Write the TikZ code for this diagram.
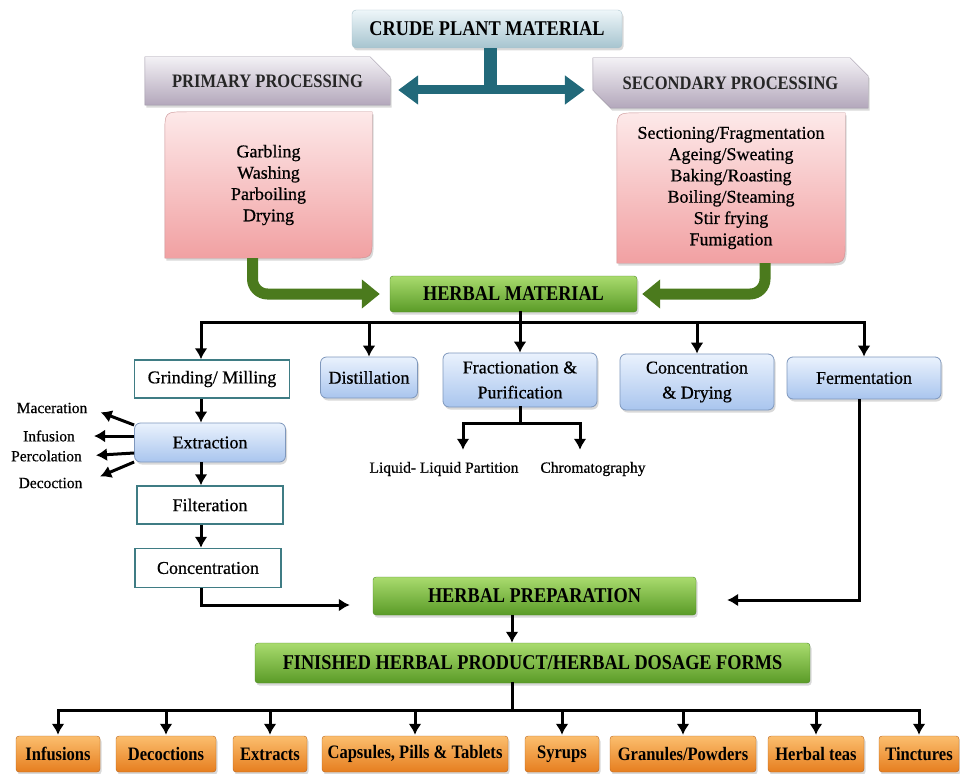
\documentclass[tikz,border=0pt]{standalone}
\usepackage{fontspec}
\setmainfont{Liberation Serif}
\newfontfamily\headfont[FakeStretch=0.87]{Liberation Serif}
\newfontfamily\bodyfont[FakeBold=0.6]{Liberation Serif}
\usetikzlibrary{arrows.meta,shadows,backgrounds}

\definecolor{proctop}{HTML}{F3F1F5}
\definecolor{procbot}{HTML}{B3A7BB}
\definecolor{procedge}{HTML}{9D95A5}
\definecolor{pinktop}{HTML}{FDE9E9}
\definecolor{pinkbot}{HTML}{F1A0A2}
\definecolor{pinkedge}{HTML}{C98F92}
\definecolor{crudetop}{HTML}{EEF6F9}
\definecolor{crudebot}{HTML}{A6C4CF}
\definecolor{crudeedge}{HTML}{A9C2CC}
\definecolor{bluetop}{HTML}{EAF2FD}
\definecolor{bluebot}{HTML}{A9C5EE}
\definecolor{blueedge}{HTML}{7E97BC}
\definecolor{greentop}{HTML}{A9DB6E}
\definecolor{greenbot}{HTML}{5A9B27}
\definecolor{greenedge}{HTML}{4E8A25}
\definecolor{orangetop}{HTML}{FBBE6E}
\definecolor{orangebot}{HTML}{E67E1F}
\definecolor{orangeedge}{HTML}{B8641C}
\definecolor{boxteal}{HTML}{3F7C84}
\definecolor{tealdark}{HTML}{22697A}
\definecolor{olivearrow}{HTML}{4B7A1D}

\tikzset{
    softshadow/.style={drop shadow={opacity=0.3, shadow xshift=1.5pt, shadow yshift=-2.5pt}},
    headtext/.style={font=\headfont\bfseries\fontsize{21}{24}\selectfont, text=black},
    crudebox/.style={headtext, rounded corners=4pt, draw=crudeedge, top color=crudetop, bottom color=crudebot, softshadow},
    proctext/.style={font=\headfont\bfseries\fontsize{19}{22}\selectfont, text=black!85},
    procshape/.style={draw=procedge, top color=proctop, bottom color=procbot, softshadow},
    pinktext/.style={font=\bodyfont\fontsize{18}{21.3}\selectfont, align=center},
    pinkshape/.style={draw=pinkedge, top color=pinktop, bottom color=pinkbot, softshadow},
    greenbox/.style={headtext, rounded corners=3pt, draw=greenedge, top color=greentop, bottom color=greenbot, softshadow},
    whitebox/.style={draw=boxteal, line width=1.5pt, fill=white, font=\bodyfont\fontsize{18}{22}\selectfont, minimum height=38pt},
    bluebox/.style={rounded corners=6pt, draw=blueedge, line width=0.8pt, top color=bluetop, bottom color=bluebot, font=\bodyfont\fontsize{18}{25}\selectfont, align=center, softshadow},
    orangebox/.style={rounded corners=3pt, draw=orangeedge, top color=orangetop, bottom color=orangebot, font=\headfont\bfseries\fontsize{19}{22}\selectfont, inner xsep=2pt, minimum height=36pt, softshadow},
    smalllabel/.style={font=\bodyfont\fontsize{15.5}{18}\selectfont, inner sep=2pt},
    conn/.style={line width=3pt, black, line cap=rect},
    connarrow/.style={line width=3pt, black, -{Latex[length=11pt,width=13pt]}},
    greenarrow/.style={line width=11pt, olivearrow, rounded corners=15pt, -{Triangle[length=18pt,width=28pt]}},
}

\begin{document}
\begin{tikzpicture}[x=1pt,y=-1pt]
    \useasboundingbox (0,0) rectangle (960,773);

    \draw node[crudebox, minimum width=270pt, minimum height=38pt] (crude) at (487,29) {CRUDE PLANT MATERIAL};
    \draw node[proctext, minimum width=245pt, minimum height=48pt] (primary) at (267.5,81) {PRIMARY PROCESSING};
    \draw node[proctext, minimum width=275pt, minimum height=50pt] (secondary) at (730.5,83) {SECONDARY PROCESSING};

    \draw node[pinktext, minimum width=207pt, minimum height=146pt] (pinkL) at (268.5,185) {Garbling\\Washing\\Parboiling\\Drying};
    \draw node[pinktext, minimum width=228pt, minimum height=150pt] (pinkR) at (731,188) {Sectioning/Fragmentation\\Ageing/Sweating\\Baking/Roasting\\Boiling/Steaming\\Stir frying\\Fumigation};

    \begin{scope}[on background layer]
        \path[procshape] (primary.south west) -- (primary.north west) -- ([xshift=-20pt]primary.north east) -- ([yshift=-20pt]primary.north east) -- (primary.south east) -- cycle;
        \path[procshape] ([yshift=18pt]secondary.south west) -- (secondary.north west) -- ([xshift=-18pt]secondary.north east) -- ([yshift=-18pt]secondary.north east) -- (secondary.south east) -- ([xshift=18pt]secondary.south west) -- cycle;
        \path[pinkshape] ([yshift=-22pt]pinkL.north west) .. controls (pinkL.north west) .. ([xshift=22pt]pinkL.north west) -- (pinkL.north east) -- ([yshift=22pt]pinkL.south east) .. controls (pinkL.south east) .. ([xshift=-22pt]pinkL.south east) -- (pinkL.south west) -- cycle;
        \path[pinkshape] ([yshift=-22pt]pinkR.north west) .. controls (pinkR.north west) .. ([xshift=22pt]pinkR.north west) -- (pinkR.north east) -- ([yshift=22pt]pinkR.south east) .. controls (pinkR.south east) .. ([xshift=-22pt]pinkR.south east) -- (pinkR.south west) -- cycle;
    \end{scope}

    \coordinate (tj) at (490,90);
    \draw[tealdark, line width=13pt] (crude.south -| tj) -- (tj);
    \draw[tealdark, line width=9pt, {Triangle[length=20pt,width=28pt]}-{Triangle[length=20pt,width=28pt]}, shorten <=8pt, shorten >=8pt] (primary.east |- tj) to (secondary.west |- tj);

    \draw node[greenbox, minimum width=247pt, minimum height=36pt] (herbmat) at (513.5,294) {HERBAL MATERIAL};
    \draw[greenarrow, shorten >=10pt] ([xshift=-16pt]pinkL.south) |- (herbmat.west);
    \draw[greenarrow, shorten >=5pt] ([xshift=34pt]pinkR.south) |- (herbmat.east);

    \coordinate (br) at (0,322);
    \coordinate (col) at (201,0);
    \draw node[whitebox, minimum width=155pt] (grind) at (212,379) {Grinding/ Milling};
    \draw node[bluebox, minimum width=97pt, minimum height=41pt] (distil) at (369,377.5) {Distillation};
    \draw node[bluebox, minimum width=154pt, minimum height=54pt] (frac) at (520,380) {Fractionation \&\\Purification};
    \draw node[bluebox, minimum width=154pt, minimum height=56pt] (concdry) at (697,382) {Concentration\\\& Drying};
    \draw node[bluebox, minimum width=154pt, minimum height=42pt] (ferm) at (864,378) {Fermentation};

    \draw[conn] (herbmat.south -| frac) to (br -| frac);
    \draw[conn] (br -| col) to (br -| ferm);
    \draw[connarrow] (br -| col) to (grind.north -| col);
    \foreach \n in {distil,frac,concdry,ferm}
        \draw[connarrow] (br -| \n) to (\n.north);

    \draw node[bluebox, minimum width=151pt, minimum height=39pt] (extr) at (210,442.5) {Extraction};
    \draw node[whitebox, minimum width=146pt] (filt) at (210,505) {Filteration};
    \draw node[whitebox, minimum width=146pt, minimum height=39pt] (conc) at (208,568) {Concentration};

    \draw[connarrow] (grind.south -| col) to (extr.north -| col);
    \draw[connarrow] (extr.south -| col) to (filt.north -| col);
    \draw[connarrow] (filt.south -| col) to (conc.north -| col);

    \draw node[smalllabel] (mac) at (52,408) {Maceration};
    \draw node[smalllabel] (inf) at (49,436) {Infusion};
    \draw node[smalllabel] (perc) at (46.5,456) {Percolation};
    \draw node[smalllabel] (dec) at (50.5,483) {Decoction};

    \draw[connarrow, shorten >=12pt] ([yshift=17.5pt]extr.west) to (mac.east);
    \draw[connarrow, shorten >=17pt] ([yshift=6.5pt]extr.west) to (inf.east);
    \draw[connarrow, shorten >=12pt] ([yshift=-10.5pt]extr.west) to (perc.east);
    \draw[connarrow, shorten >=17pt] ([yshift=-19.5pt]extr.west) to (dec.east);

    \draw node[smalllabel] (lq) at (444,469) {Liquid- Liquid Partition};
    \draw node[smalllabel] (chrom) at (593,469) {Chromatography};
    \coordinate (fj) at (520,423);
    \draw[conn] (frac.south) to (fj);
    \draw[connarrow, shorten >=10pt] (fj) -| ([xshift=19pt]lq.north);
    \draw[connarrow, shorten >=10pt] (fj) -| ([xshift=-13pt]chrom.north);

    \draw node[greenbox, minimum width=323pt, minimum height=38pt] (hp) at (534.5,596) {HERBAL PREPARATION};
    \draw[connarrow, shorten >=23pt] (conc.south -| col) |- ([yshift=-9pt]hp.west);
    \draw[connarrow, shorten >=31pt] ([xshift=-5pt]ferm.south) |- ([yshift=-4pt]hp.east);

    \coordinate (mid) at (512,0);
    \draw node[greenbox, minimum width=555pt, minimum height=40pt] (fin) at (532.5,663) {FINISHED HERBAL PRODUCT/HERBAL DOSAGE FORMS};
    \draw[connarrow] (hp.south -| mid) to (fin.north -| mid);

    \foreach \nm/\x/\w/\txt in {dfinf/58/84/Infusions, dfdec/166/100/Decoctions, dfext/270/74/Extracts, dfcap/415/186/{Capsules, Pills \& Tablets}, dfsyr/562/74/Syrups, dfgran/683/146/{Granules/Powders}, dftea/816/96/Herbal teas, dftinc/919/80/Tinctures}
        \draw node[orangebox, minimum width=\w pt] (\nm) at (\x,754) {\txt};

    \coordinate (pb) at (512,710);
    \draw[conn] (fin.south -| mid) to (pb);
    \draw[conn] (dfinf.north |- pb) to (dftinc.north |- pb);
    \foreach \nm in {dfinf,dfdec,dfext,dfcap,dfsyr,dfgran,dftea,dftinc}
        \draw[connarrow, shorten >=1pt] (\nm.north |- pb) to (\nm.north);
\end{tikzpicture}
\end{document}
